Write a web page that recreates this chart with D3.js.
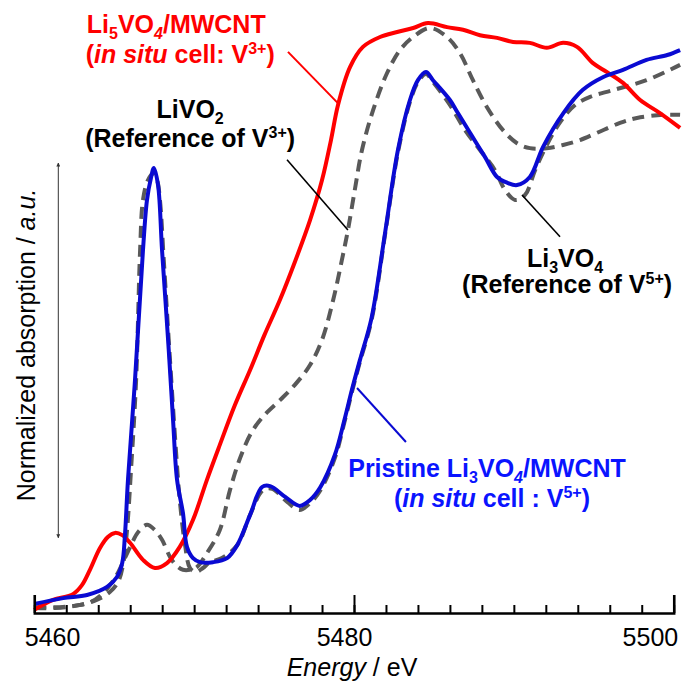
<!DOCTYPE html>
<html>
<head>
<meta charset="utf-8">
<script src="https://cdn.jsdelivr.net/npm/d3@7"></script>
<style>
  html, body { margin: 0; padding: 0; background: #fff; }
  svg { display: block; font-family: "Liberation Sans", Arial, Helvetica, sans-serif; }
</style>
</head>
<body>
<svg id="chart" width="683" height="685"></svg>
<script>
// V K-edge XANES spectra: energy (eV) and normalized absorption (a.u.)
const pristineE = [5460.0,5461.8,5463.3,5464.55,5465.17,5465.5,5465.67,5465.86,5466.3,5466.8,5467.05,5467.3,5467.48,5467.74,5467.99,5468.37,5468.68,5468.93,5469.3,5469.55,5469.93,5470.37,5471.18,5472.06,5472.7,5473.5,5474.25,5474.75,5475.7,5476.6,5477.25,5477.9,5478.8,5479.4,5479.87,5480.37,5481.1,5481.94,5482.75,5483.5,5484.0,5484.5,5484.94,5486.0,5486.5,5487.26,5488.2,5488.95,5489.6,5490.2,5491.0,5491.83,5493.1,5494.3,5495.6,5496.83,5498.3,5499.6,5500.4];
const pristineA = [0.020,0.033,0.040,0.058,0.080,0.111,0.173,0.296,0.518,0.807,0.918,0.967,0.989,0.951,0.807,0.607,0.429,0.296,0.222,0.147,0.122,0.113,0.113,0.122,0.151,0.218,0.280,0.282,0.258,0.238,0.251,0.280,0.351,0.429,0.496,0.562,0.656,0.844,1.029,1.140,1.184,1.202,1.184,1.140,1.111,1.067,1.013,0.969,0.956,0.951,0.969,1.036,1.111,1.162,1.191,1.207,1.229,1.240,1.251];

const lithiatedE = [5460.0,5461.17,5462.42,5462.98,5463.48,5464.1,5464.6,5465.05,5465.5,5465.99,5466.8,5467.55,5468.3,5469.1,5469.93,5470.8,5471.6,5472.55,5473.5,5474.4,5475.37,5476.3,5477.25,5478.0,5478.56,5479.0,5479.75,5480.56,5481.63,5482.7,5483.7,5484.63,5485.82,5486.82,5487.88,5488.95,5489.95,5491.0,5492.06,5493.08,5493.95,5494.95,5495.83,5496.83,5497.9,5499.14,5500.4];
const lithiatedA = [0.007,0.029,0.042,0.062,0.096,0.144,0.169,0.178,0.173,0.156,0.118,0.100,0.111,0.147,0.207,0.296,0.373,0.462,0.540,0.618,0.696,0.780,0.873,0.962,1.051,1.129,1.213,1.258,1.280,1.291,1.300,1.311,1.302,1.296,1.284,1.278,1.269,1.267,1.256,1.267,1.258,1.222,1.202,1.178,1.140,1.111,1.078];

const livo2E = [5460.0,5461.3,5462.55,5463.5,5464.3,5465.05,5465.55,5466.0,5466.5,5467.05,5467.55,5468.0,5468.5,5468.93,5469.3,5469.74,5470.17,5470.8,5471.6,5472.24,5472.87,5473.6,5474.4,5475.37,5476.3,5477.25,5478.0,5478.7,5479.24,5479.62,5480.05,5480.5,5481.2,5482.07,5482.88,5483.7,5484.76,5485.82,5486.63,5487.44,5488.32,5489.32,5490.2,5491.0,5492.06,5493.08,5494.14,5495.2,5496.64,5497.7,5499.33,5500.4];
const livo2A = [0.011,0.011,0.016,0.024,0.044,0.078,0.113,0.147,0.180,0.196,0.184,0.162,0.124,0.104,0.096,0.096,0.102,0.133,0.184,0.273,0.344,0.402,0.440,0.473,0.507,0.551,0.607,0.696,0.784,0.851,0.940,1.029,1.118,1.200,1.251,1.280,1.300,1.280,1.244,1.184,1.124,1.073,1.044,1.033,1.033,1.040,1.051,1.067,1.089,1.100,1.107,1.107];

const li3vo4E = [5460.0,5461.6,5462.86,5463.9,5464.74,5465.24,5465.55,5465.8,5466.05,5466.37,5466.62,5466.8,5467.11,5467.43,5467.68,5467.86,5468.1,5468.49,5468.86,5469.1,5469.43,5469.74,5470.1,5470.55,5470.99,5471.74,5472.7,5473.5,5474.3,5474.88,5475.82,5476.6,5477.25,5477.9,5478.8,5479.4,5479.87,5480.37,5481.1,5481.94,5482.75,5483.5,5484.0,5484.5,5484.94,5486.0,5486.95,5487.88,5488.82,5489.45,5490.08,5490.7,5491.33,5492.06,5492.9,5493.83,5494.77,5496.2,5498.3,5500.4];
const li3vo4A = [0.013,0.013,0.018,0.029,0.047,0.069,0.107,0.184,0.318,0.518,0.807,0.918,0.962,0.976,0.962,0.918,0.784,0.562,0.362,0.251,0.151,0.100,0.091,0.100,0.113,0.122,0.151,0.218,0.273,0.276,0.247,0.229,0.244,0.273,0.344,0.424,0.491,0.558,0.651,0.840,1.024,1.136,1.180,1.198,1.180,1.129,1.073,1.029,0.984,0.940,0.918,0.929,0.984,1.040,1.091,1.129,1.147,1.162,1.184,1.218];

// Axis ticks
const majorTicks = [5460, 5480, 5500];
const minorTicks = d3.range(5460, 5501, 2);

const svg = d3.select("#chart");
const x = d3.scaleLinear().domain([5460, 5500]).range([34.3, 673.7]);
const y = d3.scaleLinear().domain([0, 1]).range([613, 163]);

const zip = (es, as) => es.map((e, i) => [e, as[i]]);
const line = d3.line().x(d => x(d[0])).y(d => y(d[1])).curve(d3.curveCatmullRom.alpha(0.5));

const series = [
  { data: zip(livo2E, livo2A), color: "#595959", dash: "12,7" },
  { data: zip(li3vo4E, li3vo4A), color: "#595959", dash: "12,7" },
  { data: zip(lithiatedE, lithiatedA), color: "#ff0000", dash: null },
  { data: zip(pristineE, pristineA), color: "#0a0ad2", dash: null }
];

svg.append("g").selectAll("path").data(series).join("path")
  .attr("d", d => line(d.data))
  .attr("fill", "none")
  .attr("stroke", d => d.color)
  .attr("stroke-width", 4)
  .attr("stroke-linejoin", "round")
  .attr("stroke-dasharray", d => d.dash);

// Bottom axis: minor ticks every 2 eV, major ticks with labels
const axisY = y(0);
svg.append("g").attr("transform", `translate(0,${axisY})`)
  .call(d3.axisBottom(x).tickValues(minorTicks).tickSize(-8).tickFormat(""))
  .call(g => g.select(".domain").remove())
  .call(g => g.selectAll("line").attr("stroke", "#000").attr("stroke-width", 2));

const major = svg.append("g").attr("transform", `translate(0,${axisY})`)
  .call(d3.axisBottom(x).tickValues(majorTicks).tickSize(-18).tickPadding(15).tickFormat(d3.format("d")))
  .call(g => g.select(".domain").attr("stroke", "#000").attr("stroke-width", 2.5))
  .call(g => g.selectAll("line").attr("stroke", "#000").attr("stroke-width", 2));
major.selectAll("text")
  .attr("fill", "#000")
  .style("font-size", "25px")
  .style("font-family", "'Liberation Sans', Arial, sans-serif")
  .attr("text-anchor", (d, i) => i === 0 ? "start" : i === majorTicks.length - 1 ? "end" : "middle")
  .attr("dx", (d, i) => i === 0 ? -10 : i === majorTicks.length - 1 ? 4 : -10);

// Axis titles
const xt = svg.append("text").attr("x", 352).attr("y", 676)
  .attr("text-anchor", "middle").style("font-size", "25px").attr("fill", "#000");
xt.append("tspan").attr("font-style", "italic").text("Energy");
xt.append("tspan").text(" / eV");

const yt = svg.append("text").attr("transform", "translate(35,345) rotate(-90)")
  .attr("text-anchor", "middle").style("font-size", "25px").attr("fill", "#000");
yt.append("tspan").text("Normalized absorption / ");
yt.append("tspan").attr("font-style", "italic").text("a.u.");

// Double-headed arrow beside the y title
const defs = svg.append("defs");
["arrEnd", "arrStart"].forEach((id, k) => {
  defs.append("marker").attr("id", id).attr("viewBox", "0 0 10 10")
    .attr("refX", k === 0 ? 9 : 1).attr("refY", 5)
    .attr("markerWidth", 4).attr("markerHeight", 4).attr("orient", "auto")
    .append("path").attr("d", k === 0 ? "M0,0 L10,5 L0,10 z" : "M10,0 L0,5 L10,10 z").attr("fill", "#333");
});
svg.append("line").attr("x1", 58.3).attr("x2", 58.3).attr("y1", y(0.167)).attr("y2", y(1))
  .attr("stroke", "#333").attr("stroke-width", 1)
  .attr("marker-start", "url(#arrStart)").attr("marker-end", "url(#arrEnd)");

// Leader lines (data coordinates)
const leaders = [
  { from: [5475.87, 1.247], to: [5478.99, 1.133], color: "#ff0000", w: 2 },
  { from: [5475.81, 1.007], to: [5479.62, 0.851], color: "#000", w: 1.6 },
  { from: [5490.51, 0.929], to: [5492.89, 0.836], color: "#000", w: 1.6 },
  { from: [5480.19, 0.500], to: [5483.25, 0.380], color: "#0a0ad2", w: 2 }
];
svg.append("g").selectAll("line").data(leaders).join("line")
  .attr("x1", d => x(d.from[0])).attr("y1", d => y(d.from[1]))
  .attr("x2", d => x(d.to[0])).attr("y2", d => y(d.to[1]))
  .attr("stroke", d => d.color).attr("stroke-width", d => d.w);

// Rich text labels: segments with optional sub/sup/italic
function richText(E, A, segs, color) {
  const t = svg.append("text").attr("x", x(E)).attr("y", y(A))
    .attr("text-anchor", "middle").attr("fill", color)
    .style("font-size", "25px").style("font-weight", "bold");
  let prev = 0;
  segs.forEach(s => {
    const shift = s.sub ? 6 : s.sup ? -9 : 0;
    const ts = t.append("tspan").attr("dy", shift - prev).text(s.t);
    if (s.sub || s.sup) ts.style("font-size", "16px");
    if (s.it) ts.attr("font-style", "italic");
    prev = shift;
  });
  return t;
}

const red = "#ff0000", blue = "#0a14ff", black = "#000";
richText(5468.88, 1.289, [{t: "Li"}, {t: "5", sub: 1}, {t: "VO"}, {t: "4", sub: 1, it: 1}, {t: "/MWCNT"}], red);
richText(5469.13, 1.222, [{t: "("}, {t: "in situ", it: 1}, {t: " cell: V"}, {t: "3+", sup: 1}, {t: ")"}], red);
richText(5469.75, 1.100, [{t: "LiVO"}, {t: "2", sub: 1}], black);
richText(5469.75, 1.036, [{t: "(Reference of V"}, {t: "3+", sup: 1}, {t: ")"}], black);
richText(5493.20, 0.769, [{t: "Li"}, {t: "3", sub: 1}, {t: "VO"}, {t: "4", sub: 1}], black);
richText(5493.33, 0.711, [{t: "(Reference of V"}, {t: "5+", sup: 1}, {t: ")"}], black);
richText(5488.32, 0.302, [{t: "Pristine Li"}, {t: "3", sub: 1}, {t: "VO"}, {t: "4", sub: 1, it: 1}, {t: "/MWCNT"}], blue);
richText(5488.63, 0.236, [{t: "("}, {t: "in situ", it: 1}, {t: " cell : V"}, {t: "5+", sup: 1}, {t: ")"}], blue);
</script>
</body>
</html>
